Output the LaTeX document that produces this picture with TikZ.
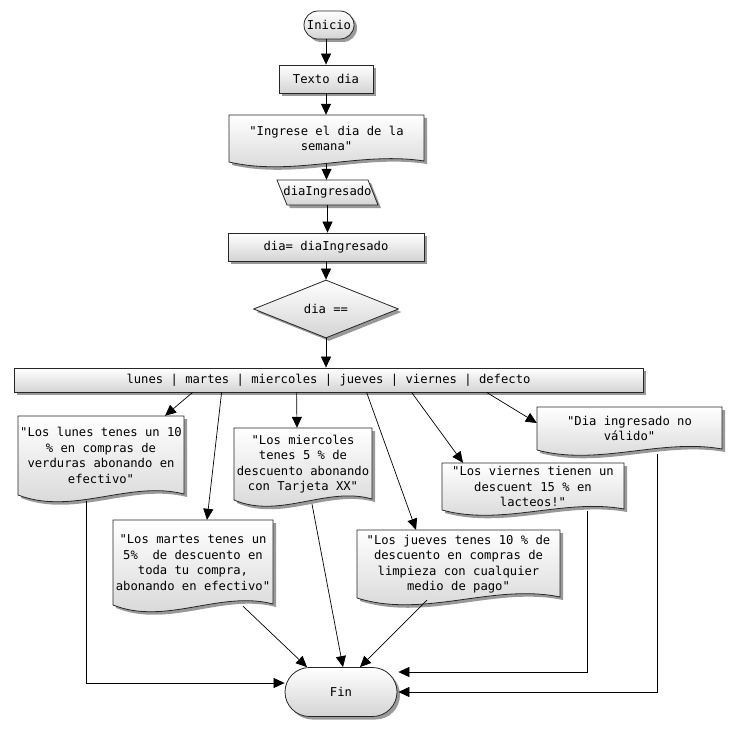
\documentclass[tikz,border=0pt]{standalone}
\usepackage{fontspec}
\setmonofont{DejaVu Sans Mono}
\usetikzlibrary{shapes.geometric,shapes.misc,shadows,arrows.meta,calc}

\tikzset{
  base/.style={font=\ttfamily\fontsize{12.2}{15.5}\selectfont, align=center, inner sep=0pt},
  shapefill/.style={top color=white, bottom color=black!17, draw=black!85, line width=0.8pt},
  shad/.style={drop shadow={shadow xshift=3pt, shadow yshift=-3pt, fill=black!40, opacity=1}},
  procbox/.style={base, rectangle, shapefill, shad},
  term/.style={base, rounded rectangle, shapefill, shad},
  decision/.style={base, diamond, shapefill, shad},
  arr/.style={-{Triangle[length=11pt,width=10pt]}, line width=0.7pt, black},
}

% name, x1, y1, x2, yb, amp, text
\newcommand\docnode[7]{%
  \fill[black!40] ({#2+3},{#3+3}) -- ({#4+3},{#3+3}) -- ({#4+3},{#5+2})
     .. controls ({#2+0.67*(#4-#2)+3},{#5-1-2*#6+3}) and ({#2+0.33*(#4-#2)+3},{#5+3*#6+3}) .. ({#2+3},{#5+3}) -- cycle;
  \path[shapefill] ({#2},{#3}) -- ({#4},{#3}) -- ({#4},{#5-1})
     .. controls ({#2+0.67*(#4-#2)},{#5-1-2*#6}) and ({#2+0.33*(#4-#2)},{#5+3*#6}) .. ({#2},{#5}) -- cycle;
  \node[base, minimum width={#4-#2}, minimum height={#5-#3}] (#1) at ({(#2+#4)/2},{(#3+#5)/2}) {#7};
}

\begin{document}
\begin{tikzpicture}[x=1pt,y=-1pt]
\useasboundingbox (0,0) rectangle (743,730);

% top column
\node[term, minimum width=50pt, minimum height=28pt] (inicio) at (329,25) {Inicio};
\node[procbox, minimum width=94pt, minimum height=28pt] (textodia) at (326,79) {Texto dia};
\docnode{ingrese}{229}{115}{424}{162}{5}{"Ingrese el dia de la\\semana"}

\fill[black!40] (280,183) -- (371,183) -- (381,208) -- (290,208) -- cycle;
\path[shapefill] (277,180) -- (368,180) -- (378,205) -- (287,205) -- cycle;
\node[base, minimum width=91pt, minimum height=25pt] (ing) at (327.5,192.5) {diaIngresado};

\node[procbox, minimum width=196pt, minimum height=28pt] (asig) at (326,247) {dia= diaIngresado};
\node[decision, minimum width=145pt, minimum height=58pt, shape aspect=2.5] (dec) at (326,309) {dia ==};
\node[procbox, minimum width=629pt, minimum height=24pt] (bar) at (328.5,380)
  {lunes | martes | miercoles | jueves | viernes | defecto};

% documents
\docnode{lunes}{18}{416}{184}{495}{7}{"Los lunes tenes un 10\\\% en compras de\\verduras abonando en\\efectivo"}
\docnode{miercoles}{234}{428}{372}{500}{6.5}{"Los miercoles\\tenes 5 \% de\\descuento abonando\\con Tarjeta XX"}
\docnode{martes}{113}{520}{273}{605}{7}{"Los martes tenes un\\5\%\ \ de descuento en\\toda tu compra,\\abonando en efectivo"}
\docnode{jueves}{357}{530}{560}{598}{7}{"Los jueves tenes 10 \% de\\descuento en compras de\\limpieza con cualquier\\medio de pago"}
\docnode{viernes}{442}{463}{624}{510}{5.5}{"Los viernes tienen un\\descuent 15 \% en\\lacteos!"}
\docnode{defecto}{537}{407}{722}{450}{5.5}{"Dia ingresado no\\válido"}

\node[term, minimum width=112pt, minimum height=49pt] (fin) at (341,692) {Fin};

% connectors top
\draw[arr] (textodia.north |- inicio.south) -- (textodia.north);
\draw[arr] (textodia.south) -- (textodia.south |- ingrese.north);
\draw[arr] ([yshift=-2pt]ingrese.south) -- (ingrese.south |- ing.north);
\draw[arr] (ing.south) -- (ing.south |- asig.north);
\draw[arr] (asig.south) -- (dec.north);
\draw[arr] (dec.south) -- (dec.south |- bar.north);

% bar to documents
\draw[arr] ([xshift=179pt]bar.south west) -- ([xshift=64pt]lunes.north);
\draw[arr] ([xshift=208pt]bar.south west) -- ([xshift=14pt]martes.north);
\draw[arr] ([xshift=283pt]bar.south west) -- ([xshift=-6pt]miercoles.north);
\draw[arr] ([xshift=353pt]bar.south west) -- ([xshift=-42.5pt]jueves.north);
\draw[arr] ([xshift=398pt]bar.south west) -- ([xshift=-70pt]viernes.north);
\draw[arr] ([xshift=473pt]bar.south west) -- ([yshift=5.5pt]defecto.west);

% documents to Fin
\draw[arr] ([xshift=-15pt,yshift=-6pt]lunes.south) |- ([yshift=9pt]fin.west);
\draw[arr] ([xshift=50pt,yshift=-1pt]martes.south) -- ([xshift=-34pt]fin.north);
\draw[arr] ([xshift=9pt,yshift=-4pt]miercoles.south) -- ([xshift=2pt]fin.north);
\draw[arr] ([xshift=-31.5pt,yshift=-2pt]jueves.south) -- ([xshift=19pt]fin.north);
\draw[arr] ([xshift=54pt,yshift=-1pt]viernes.south) |- ([xshift=1pt,yshift=20pt]fin.east);
\draw[arr] ([xshift=27.5pt,yshift=-4pt]defecto.south) |- ([xshift=1pt]fin.east);
\end{tikzpicture}
\end{document}
